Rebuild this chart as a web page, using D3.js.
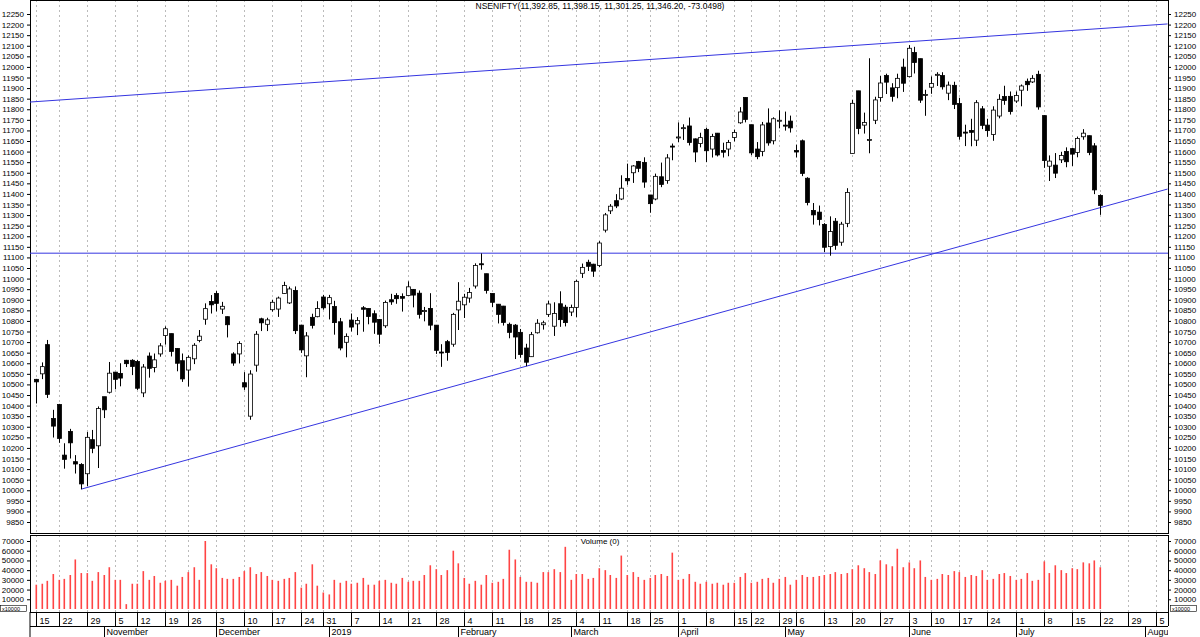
<!DOCTYPE html>
<html><head><meta charset="utf-8">
<script src="https://cdn.jsdelivr.net/npm/d3@7"></script>
<style>body{margin:0;background:#fff}svg{display:block;font-family:"Liberation Sans",Arial,sans-serif}</style>
</head><body><svg id="c" width="1200" height="637"></svg>
<script>
const title = "NSENIFTY(11,392.85, 11,398.15, 11,301.25, 11,346.20, -73.0498)";
const candles = [
["2018-10-15",10524,10526,10410,10512],["2018-10-16",10550,10604,10525,10584],["2018-10-17",10688,10710,10436,10453],["2018-10-19",10339,10380,10249,10303],
["2018-10-22",10405,10408,10224,10245],["2018-10-23",10166,10222,10102,10146],["2018-10-24",10278,10290,10150,10224],["2018-10-25",10135,10166,10079,10124],["2018-10-26",10122,10128,10005,10030],
["2018-10-29",10078,10275,10020,10250],["2018-10-30",10239,10285,10175,10198],["2018-10-31",10210,10396,10105,10386],["2018-11-01",10442,10441,10341,10380],["2018-11-02",10463,10606,10457,10553],
["2018-11-05",10558,10558,10477,10524],["2018-11-06",10552,10600,10491,10530],["2018-11-07",10614,10616,10582,10598],["2018-11-09",10614,10619,10544,10585],
["2018-11-12",10608,10616,10474,10482],["2018-11-13",10460,10596,10440,10582],["2018-11-14",10634,10651,10532,10576],["2018-11-15",10580,10646,10557,10616],["2018-11-16",10644,10695,10631,10682],
["2018-11-19",10731,10774,10688,10763],["2018-11-20",10740,10740,10632,10656],["2018-11-21",10670,10671,10562,10600],["2018-11-22",10612,10646,10512,10526],
["2018-11-26",10568,10637,10490,10628],["2018-11-27",10621,10695,10596,10685],["2018-11-28",10708,10757,10699,10728],["2018-11-29",10808,10883,10782,10858],["2018-11-30",10892,10922,10835,10876],
["2018-12-03",10930,10941,10845,10883],["2018-12-04",10856,10890,10833,10869],["2018-12-05",10820,10821,10722,10782],["2018-12-06",10644,10652,10588,10601],["2018-12-07",10644,10704,10599,10693],
["2018-12-10",10508,10558,10474,10488],["2018-12-11",10350,10567,10333,10549],["2018-12-12",10591,10752,10560,10737],["2018-12-13",10810,10815,10752,10791],["2018-12-14",10784,10815,10752,10805],
["2018-12-17",10853,10900,10844,10888],["2018-12-18",10856,10915,10819,10908],["2018-12-19",10930,10985,10928,10967],["2018-12-20",10885,10962,10880,10951],["2018-12-21",10944,10963,10738,10754],
["2018-12-24",10780,10782,10649,10663],["2018-12-26",10635,10747,10534,10729],["2018-12-27",10817,10834,10764,10779],["2018-12-28",10820,10893,10817,10859],
["2018-12-31",10913,10923,10853,10862],["2019-01-01",10881,10923,10807,10910],["2019-01-02",10868,10895,10735,10792],["2019-01-03",10796,10814,10661,10672],["2019-01-04",10699,10741,10628,10727],
["2019-01-07",10804,10835,10750,10771],["2019-01-08",10786,10818,10733,10802],["2019-01-09",10862,10870,10749,10855],["2019-01-10",10859,10859,10784,10821],["2019-01-11",10834,10850,10739,10794],
["2019-01-14",10807,10808,10692,10737],["2019-01-15",10777,10896,10767,10887],["2019-01-16",10900,10928,10876,10890],["2019-01-17",10920,10931,10881,10905],["2019-01-18",10915,10930,10844,10907],
["2019-01-21",10920,10987,10919,10961],["2019-01-22",10949,10950,10864,10922],["2019-01-23",10931,10944,10811,10831],["2019-01-24",10844,10866,10798,10849],["2019-01-25",10859,10931,10756,10780],
["2019-01-28",10780,10780,10644,10661],["2019-01-29",10653,10690,10583,10652],["2019-01-30",10702,10710,10612,10651],["2019-01-31",10690,10838,10678,10831],["2019-02-01",10852,10983,10757,10893],
["2019-02-04",10876,10928,10814,10912],["2019-02-05",10908,10956,10886,10934],["2019-02-06",10965,11072,10953,11062],["2019-02-07",11070,11119,11042,11069],["2019-02-08",11023,11023,10929,10944],
["2019-02-11",10930,10930,10865,10888],["2019-02-12",10879,10880,10788,10831],["2019-02-13",10870,10871,10778,10793],["2019-02-14",10784,10792,10718,10746],["2019-02-15",10780,10785,10620,10724],
["2019-02-18",10746,10762,10626,10641],["2019-02-19",10672,10692,10586,10605],["2019-02-20",10631,10748,10630,10735],["2019-02-21",10744,10808,10740,10789],["2019-02-22",10782,10801,10759,10791],
["2019-02-25",10831,10895,10819,10880],["2019-02-26",10775,10888,10729,10835],["2019-02-27",10881,10940,10772,10806],["2019-02-28",10865,10876,10774,10792],["2019-03-01",10842,10877,10823,10863],
["2019-03-05",10864,10995,10817,10987],["2019-03-06",11025,11071,11003,11053],["2019-03-07",11077,11089,11036,11058],["2019-03-08",11068,11070,11008,11035],
["2019-03-11",11062,11177,11054,11168],["2019-03-12",11229,11310,11218,11301],["2019-03-13",11320,11352,11305,11342],["2019-03-14",11368,11399,11333,11343],["2019-03-15",11376,11488,11371,11427],
["2019-03-18",11473,11543,11443,11462],["2019-03-19",11500,11536,11452,11532],["2019-03-20",11553,11556,11503,11521],["2019-03-22",11549,11573,11429,11456],
["2019-03-25",11395,11395,11311,11354],["2019-03-26",11376,11496,11370,11483],["2019-03-27",11481,11548,11432,11445],["2019-03-28",11463,11588,11448,11570],["2019-03-29",11626,11638,11559,11624],
["2019-04-01",11665,11738,11644,11669],["2019-04-02",11711,11729,11655,11713],["2019-04-03",11721,11761,11629,11643],["2019-04-04",11660,11662,11550,11598],["2019-04-05",11638,11689,11620,11666],
["2019-04-08",11705,11713,11550,11604],["2019-04-09",11612,11684,11572,11671],["2019-04-10",11687,11688,11577,11584],["2019-04-11",11605,11642,11572,11597],["2019-04-12",11612,11655,11578,11643],
["2019-04-15",11667,11704,11648,11690],["2019-04-16",11736,11810,11731,11787],["2019-04-18",11856,11856,11738,11752],
["2019-04-22",11727,11727,11583,11594],["2019-04-23",11612,11645,11564,11576],["2019-04-24",11601,11740,11578,11726],["2019-04-25",11735,11804,11628,11641],["2019-04-26",11651,11762,11634,11755],
["2019-04-30",11747,11795,11710,11748],["2019-05-02",11725,11789,11699,11724],["2019-05-03",11744,11770,11690,11712],
["2019-05-06",11605,11633,11572,11598],["2019-05-07",11651,11657,11484,11497],["2019-05-08",11474,11479,11346,11359],["2019-05-09",11322,11357,11255,11301],["2019-05-10",11314,11345,11251,11279],
["2019-05-13",11256,11262,11125,11148],["2019-05-14",11151,11294,11108,11222],["2019-05-15",11271,11286,11136,11157],["2019-05-16",11172,11268,11155,11257],["2019-05-17",11261,11427,11243,11407],
["2019-05-20",11591,11845,11591,11828],["2019-05-21",11887,11887,11682,11709],["2019-05-22",11725,11784,11685,11737],["2019-05-23",11654,12041,11592,11657],["2019-05-24",11748,11859,11730,11844],
["2019-05-27",11855,11957,11836,11924],["2019-05-28",11959,11968,11872,11928],["2019-05-29",11901,11923,11836,11861],["2019-05-30",11902,11968,11852,11946],["2019-05-31",11999,12039,11882,11923],
["2019-06-03",11954,12103,11950,12088],["2019-06-04",12068,12095,11969,12021],["2019-06-06",12039,12039,11830,11843],["2019-06-07",11866,11892,11769,11870],
["2019-06-10",11904,11955,11873,11922],["2019-06-11",11961,11975,11910,11965],["2019-06-12",11959,11975,11893,11906],["2019-06-13",11876,11931,11843,11914],["2019-06-14",11913,11930,11801,11823],
["2019-06-17",11827,11854,11656,11672],["2019-06-18",11692,11727,11626,11691],["2019-06-19",11700,11755,11625,11691],["2019-06-20",11654,11843,11626,11831],["2019-06-21",11802,11815,11706,11724],
["2019-06-24",11725,11755,11670,11699],["2019-06-25",11681,11814,11651,11796],["2019-06-26",11768,11871,11757,11847],["2019-06-27",11860,11911,11821,11841],["2019-06-28",11861,11884,11775,11789],
["2019-07-01",11839,11884,11830,11865],["2019-07-02",11890,11917,11814,11910],["2019-07-03",11932,11945,11887,11916],["2019-07-04",11929,11961,11924,11946],["2019-07-05",11965,11982,11798,11811],
["2019-07-08",11770,11771,11523,11558],["2019-07-09",11531,11582,11461,11555],["2019-07-10",11536,11593,11475,11498],["2019-07-11",11561,11599,11546,11582],["2019-07-12",11601,11620,11526,11552],
["2019-07-15",11614,11618,11532,11588],["2019-07-16",11596,11671,11573,11662],["2019-07-17",11670,11706,11656,11687],["2019-07-18",11675,11676,11583,11596],["2019-07-19",11627,11640,11399,11419],
["2019-07-22",11393,11398,11301,11346]];
const volumes = [25000,26000,29000,36000,30000,31000,35000,51000,37000,37000,29000,38000,
35000,43000,30000,30000,5000,26000,26000,39000,30000,34000,27000,29000,30000,24000,33000,38000,43000,30000,70000,46000,
42000,32000,31000,31000,33000,39000,43000,36000,38000,34000,30000,29000,31000,32000,38000,22000,26000,46000,24000,17000,
15000,30000,27000,29000,26000,27000,32000,25000,25000,29000,30000,27000,26000,32000,28000,29000,29000,35000,45000,41000,35000,40000,60000,
47000,32000,26000,29000,25000,35000,27000,28000,31000,61000,51000,33000,28000,28000,27000,38000,38000,41000,38000,64000,
30000,36000,36000,31000,32000,42000,40000,35000,32000,55000,35000,38000,33000,30000,32000,35000,36000,34000,58000,
30000,31000,36000,28000,26000,28000,26000,27000,25000,27000,27000,33000,37000,27000,28000,31000,32000,27000,31000,
33000,25000,30000,35000,33000,33000,34000,35000,36000,38000,36000,37000,41000,45000,42000,38000,36000,50000,46000,44000,62000,43000,
48000,42000,50000,33000,30000,31000,36000,35000,39000,38000,33000,35000,34000,40000,30000,31000,36000,37000,34000,
30000,31000,37000,29000,30000,49000,37000,45000,40000,37000,42000,41000,48000,47000,50000,43000];
const priceTicks = d3.range(9850, 12251, 50);
const volTicks = [10000,20000,30000,40000,50000,60000,70000];
const futureMondays = ["2019-07-29","2019-08-05"];
const monthNames = ["January","February","March","April","May","June","July","August","September","October","November","December"];
const upperLine = [[-1.1,11834],[201,12203]];
const lowerLine = [[8,10005],[201,11423]];
const hLine = 11120;

const svg = d3.select("#c");
const L=30,R=1168,PT=0,PB=533,VT=535,VB=612;
svg.append("defs").append("clipPath").attr("id","clipx").append("rect").attr("x",L).attr("y",0).attr("width",R-L).attr("height",637);
const parse=d3.timeParse("%Y-%m-%d");
const dts=candles.map(d=>parse(d[0]));
const x=d3.scaleLinear().domain([0,189]).range([36,1100]);
const y=d3.scaleLinear().domain([9850,12250]).range([522,14]);
const yv=d3.scaleLinear().domain([0,70000]).range([609,541]);

const g=svg.append("g");
const ax=g.append("g").attr("clip-path","url(#clipx)");
const weekIdx=[];
dts.forEach((d,i)=>{ if(i===0 || d3.timeMonday.floor(d)>d3.timeMonday.floor(dts[i-1])) weekIdx.push({i,d,day:d3.timeMonday.floor(d).getDate()}); });
futureMondays.forEach((s,k)=>{const d=parse(s);weekIdx.push({i:189+(k===0?5:10),d,day:d.getDate()});});
weekIdx.forEach(w=>{
  const xx=Math.round(x(w.i))+0.5;
  [[PT,PB],[VT,VB]].forEach(([a,b])=>g.append("line").attr("x1",xx).attr("x2",xx).attr("y1",a).attr("y2",b).attr("stroke","#bbb").attr("stroke-dasharray","2,3"));
  ax.append("line").attr("x1",xx).attr("x2",xx).attr("y1",VB).attr("y2",626).attr("stroke","#000");
  ax.append("text").attr("x",xx+3).attr("y",624).attr("font-size",9).text(w.day);
});
const monthIdx=[];
dts.forEach((d,i)=>{ if(i>0 && d.getMonth()!==dts[i-1].getMonth()) monthIdx.push({i,d}); });
monthIdx.push({i:189+8,d:parse("2019-08-01")});
monthIdx.forEach(m=>{
  const xx=Math.round(x(m.i))+0.5;
  ax.append("line").attr("x1",xx).attr("x2",xx).attr("y1",626).attr("y2",637).attr("stroke","#000");
  const t=m.d.getMonth()===0?String(m.d.getFullYear()):monthNames[m.d.getMonth()];
  ax.append("text").attr("x",xx+2).attr("y",635).attr("font-size",9).text(t);
});
g.append("rect").attr("x",L+0.5).attr("y",PT+0.5).attr("width",R-L).attr("height",PB-PT).attr("fill","none").attr("stroke","#000");
g.append("rect").attr("x",L+0.5).attr("y",VT+0.5).attr("width",R-L).attr("height",VB-VT).attr("fill","none").attr("stroke","#000");
g.append("line").attr("x1",L).attr("x2",R).attr("y1",626.5).attr("y2",626.5).attr("stroke","#000");
g.append("line").attr("x1",L).attr("x2",L).attr("y1",VB).attr("y2",637).attr("stroke","#000");
g.append("line").attr("x1",R+0.5).attr("x2",R+0.5).attr("y1",VB).attr("y2",626).attr("stroke","#000");
const axL=d3.axisLeft(y).tickValues(priceTicks).tickSize(3).tickFormat(d3.format("d"));
const axR=d3.axisRight(y).tickValues(priceTicks).tickSize(3).tickFormat(d3.format("d"));
const gl=g.append("g").attr("transform",`translate(${L},0)`).call(axL);
const gr=g.append("g").attr("transform",`translate(${R},0)`).call(axR);
const gvl=g.append("g").attr("transform",`translate(${L},0)`).call(d3.axisLeft(yv).tickValues(volTicks).tickSize(3).tickFormat(d3.format("d")));
const gvr=g.append("g").attr("transform",`translate(${R},0)`).call(d3.axisRight(yv).tickValues(volTicks).tickSize(3).tickFormat(d3.format("d")));
[gl,gr,gvl,gvr].forEach(a=>{a.select(".domain").remove();a.selectAll("text").attr("font-size",8).attr("font-family","Liberation Sans");});
[[0,"x10000"],[R+2,"x10000"]].forEach(([xx,t])=>{g.append("rect").attr("x",xx+0.5).attr("y",605.5).attr("width",26).attr("height",6).attr("fill","#fff").attr("stroke","#000").attr("stroke-width",0.6);g.append("text").attr("x",xx+2).attr("y",611).attr("font-size",5.5).text(t);});
g.append("line").attr("x1",L).attr("x2",R).attr("y1",y(hLine)).attr("y2",y(hLine)).attr("stroke","#3535e0");
const tl=(p)=>{const [a,b]=p;const xa=Math.max(L,x(a[0])),xb=Math.min(R,x(b[0]));
  const s=(b[1]-a[1])/(b[0]-a[0]);const pa=a[1]+s*(x.invert(xa)-a[0]),pb=a[1]+s*(x.invert(xb)-a[0]);
  g.append("line").attr("x1",xa).attr("y1",y(pa)).attr("x2",xb).attr("y2",y(pb)).attr("stroke","#3535e0");};
tl(upperLine);tl(lowerLine);
const cg=g.append("g");
candles.forEach((c,i)=>{
  const [_,o,h,l,cl]=c; const xx=Math.round(x(i))+0.5;
  cg.append("line").attr("x1",xx).attr("x2",xx).attr("y1",y(h)).attr("y2",y(l)).attr("stroke","#000");
  const top=y(Math.max(o,cl)),bot=y(Math.min(o,cl));
  cg.append("rect").attr("x",xx-2).attr("y",top).attr("width",4).attr("height",Math.max(1,bot-top))
    .attr("fill",cl>=o?"#fff":"#000").attr("stroke","#000").attr("stroke-width",0.8);
});
volumes.forEach((v,i)=>{
  const xx=Math.round(x(i));
  g.append("rect").attr("x",xx-0.5).attr("y",yv(v)).attr("width",1.6).attr("height",yv(0)-yv(v)).attr("fill","#f44");
});
g.append("text").attr("x",600).attr("y",9).attr("text-anchor","middle").attr("font-size",8.5).text(title);
g.append("text").attr("x",600).attr("y",544).attr("text-anchor","middle").attr("font-size",8).text("Volume (0)");
</script></body></html>
